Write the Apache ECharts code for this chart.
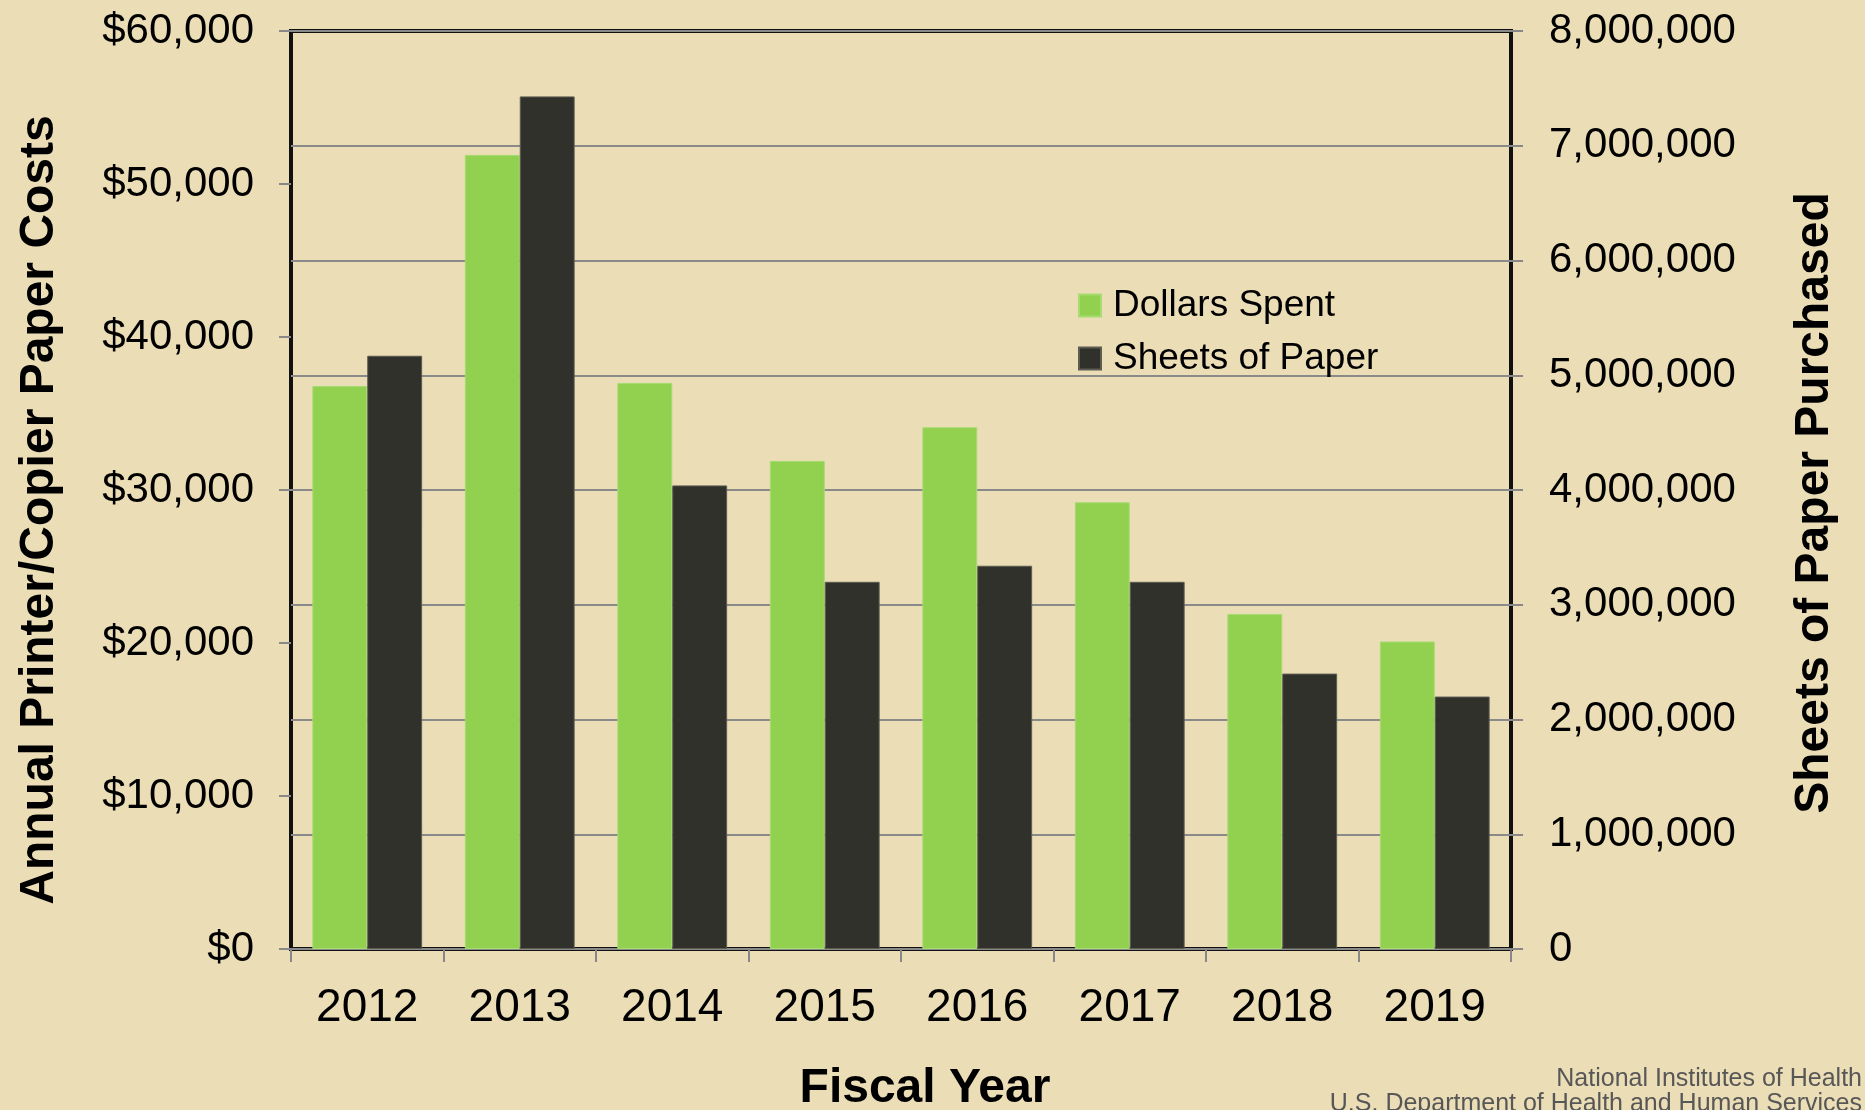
<!DOCTYPE html>
<html>
<head>
<meta charset="utf-8">
<script src="https://cdn.jsdelivr.net/npm/echarts@6/dist/echarts.min.js"></script>
<style>
html,body{margin:0;padding:0;background:#EBDDB6;}
#c{width:1865px;height:1110px;}
</style>
</head>
<body>
<div id="c"></div>
<script>
const years = ['2012','2013','2014','2015','2016','2017','2018','2019'];
const dollarsSpent = [36800, 51900, 37000, 31900, 34100, 29200, 21900, 20100];
const sheetsOfPaper = [5170000, 7430000, 4040000, 3200000, 3340000, 3200000, 2400000, 2200000];
const seriesNames = ['Dollars Spent', 'Sheets of Paper'];
const leftAxisTitle = 'Annual Printer/Copier Paper Costs';
const rightAxisTitle = 'Sheets of Paper Purchased';
const xAxisTitle = 'Fiscal Year';
const footerLines = ['National Institutes of Health', 'U.S. Department of Health and Human Services'];

const FONT = '"Liberation Sans", Arial, sans-serif';
const fmt = v => String(v).replace(/\B(?=(\d{3})+(?!\d))/g, ',');

const chart = echarts.init(document.getElementById('c'));
chart.setOption({
  backgroundColor: '#EBDDB6',
  animation: false,
  textStyle: {fontFamily: FONT},
  grid: {left: 291, right: 354, top: 31, bottom: 161, show: true, borderColor: '#111', borderWidth: 4, backgroundColor: 'transparent'},
  legend: {
    orient: 'vertical', left: 1078, top: 287, padding: 0,
    itemWidth: 22, itemHeight: 22, itemGap: 16, icon: 'rect',
    textStyle: {fontSize: 37, color: '#000', fontFamily: FONT, padding: [0,0,0,7], lineHeight: 37},
    data: seriesNames
  },
  xAxis: {
    type: 'category', data: years,
    axisLine: {show: false},
    axisTick: {show: true, length: 13, lineStyle: {color: '#888', width: 2}},
    axisLabel: {fontSize: 46, color: '#000', margin: 36, fontFamily: FONT},
    splitLine: {show: false}
  },
  yAxis: [
    {
      type: 'value', min: 0, max: 60000, interval: 10000, position: 'left',
      axisLine: {show: false},
      axisTick: {show: true, length: 12, lineStyle: {color: '#888', width: 2}},
      axisLabel: {fontSize: 42, color: '#000', margin: 37, fontFamily: FONT, formatter: v => '$' + fmt(v)},
      splitLine: {show: false}
    },
    {
      type: 'value', min: 0, max: 8000000, interval: 1000000, position: 'right',
      axisLine: {show: false},
      axisTick: {show: true, length: 12, lineStyle: {color: '#888', width: 2}},
      axisLabel: {fontSize: 42, color: '#000', margin: 38, fontFamily: FONT, formatter: v => fmt(v)},
      splitLine: {show: true, lineStyle: {color: '#8a8a8a', width: 2}}
    }
  ],
  series: [
    {
      name: seriesNames[0], type: 'bar', yAxisIndex: 0, data: dollarsSpent,
      barGap: '0%', barCategoryGap: '28%',
      itemStyle: {color: '#92D050', borderColor: '#a6dc70', borderWidth: 1}
    },
    {
      name: seriesNames[1], type: 'bar', yAxisIndex: 1, data: sheetsOfPaper,
      barGap: '0%', barCategoryGap: '28%',
      itemStyle: {color: '#30312B', borderColor: '#5c5c52', borderWidth: 1}
    }
  ],
  graphic: [
    {type: 'text', x: 40, y: 510, rotation: Math.PI/2,
     style: {text: leftAxisTitle, font: 'bold 48px ' + FONT, fill: '#000', textAlign: 'center', textVerticalAlign: 'middle'}},
    {type: 'text', x: 1815, y: 503, rotation: Math.PI/2,
     style: {text: rightAxisTitle, font: 'bold 48px ' + FONT, fill: '#000', textAlign: 'center', textVerticalAlign: 'middle'}},
    {type: 'text', x: 925, y: 1089,
     style: {text: xAxisTitle, font: 'bold 48px ' + FONT, fill: '#000', textAlign: 'center', textVerticalAlign: 'middle'}},
    {type: 'text', x: 1862, y: 1079,
     style: {text: footerLines[0], font: '25px ' + FONT, fill: '#575757', textAlign: 'right', textVerticalAlign: 'middle'}},
    {type: 'text', x: 1862, y: 1104,
     style: {text: footerLines[1], font: '25px ' + FONT, fill: '#575757', textAlign: 'right', textVerticalAlign: 'middle'}}
  ]
});
</script>
</body>
</html>
